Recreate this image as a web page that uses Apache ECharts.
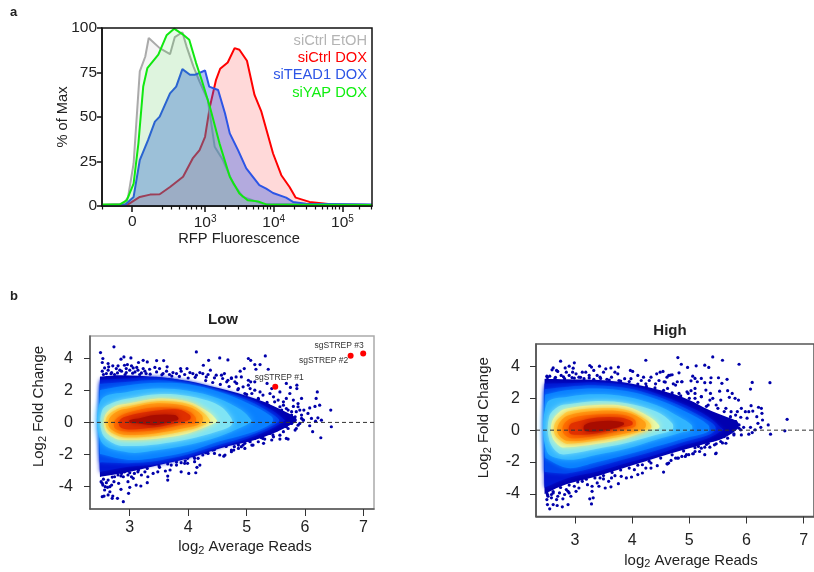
<!DOCTYPE html>
<html>
<head>
<meta charset="utf-8">
<style>html,body{margin:0;padding:0;background:#fff}#c{width:814px;height:572px}</style>
<script src="https://cdn.jsdelivr.net/npm/echarts@6/dist/echarts.min.js"></script>
</head>
<body>
<div id="c"></div>
<script>
// ---------- Panel a: histograms [display position (log10 units), % of max] ----------
const histGrey = [[1.5,.6],[1.81,.9],[1.88,5.1],[1.96,23.9],[2.05,75.6],[2.13,84],[2.18,94.4],[2.34,88.7],[2.49,85.3],[2.56,94.9],[2.67,97.6],[2.73,89.7],[2.83,78.4],[2.92,69.9],[3.04,59.6],[3.14,33.3],[3.26,25.8],[3.41,12.6],[3.55,5.1],[3.84,1.3],[5.43,.6]];
const histRed = [[1.5,.6],[1.88,.9],[2.05,5.1],[2.2,6.4],[2.34,6.6],[2.49,10.7],[2.68,16.4],[2.82,26.7],[2.92,31.4],[3,38.9],[3.07,55.8],[3.16,70.9],[3.22,77.1],[3.33,80.6],[3.43,88.7],[3.5,87.8],[3.61,81.6],[3.72,62.4],[3.82,53],[3.99,29.5],[4.11,17.3],[4.23,10.7],[4.32,4.7],[4.52,2.3],[4.86,.9],[5.43,.6]];
const histBlue = [[1.5,.6],[1.84,.9],[1.96,5.1],[2.05,25.8],[2.17,37],[2.27,47.4],[2.34,50.2],[2.49,63.3],[2.58,67.1],[2.67,76.9],[2.78,73.7],[2.85,73.7],[3,76.1],[3.06,67.1],[3.19,65.2],[3.29,52.1],[3.36,40.8],[3.48,31.4],[3.6,21.1],[3.79,11.7],[3.89,9.8],[3.99,7.3],[4.18,4.7],[4.28,2.3],[4.47,1.3],[5.43,.8]];
const histGreen = [[1.5,.9],[1.76,.9],[1.86,3.2],[1.96,12.6],[2.03,35.2],[2.1,67.1],[2.16,77.4],[2.32,85],[2.44,95.9],[2.55,99.6],[2.67,96.6],[2.77,93.4],[2.87,80.3],[2.95,70.9],[3.07,55.8],[3.21,35.2],[3.36,16.4],[3.5,7],[3.62,3.2],[3.77,2.6],[3.89,.9],[5.43,.6]];
const histNames = ['siCtrl EtOH','siCtrl DOX','siTEAD1 DOX','siYAP DOX'];
const histYTicks = [0,25,50,75,100];
const histXMajor = [1.94,3,4,5];
const histXLabels = ['0','10{s|3}','10{s|4}','10{s|5}'];
const histXMinor = [1.51,2.37,2.51,2.63,2.73,2.8,2.87,2.945,3.3,3.48,3.6,3.7,3.78,3.85,3.9,3.95,4.3,4.48,4.6,4.7,4.78,4.85,4.9,4.95,5.25,5.42];

// ---------- Panel b: shared ticks ----------
const maXTicks = [3,4,5,6,7];
const maYTicks = [-4,-2,0,2,4];

// ---------- Low: density contours [x, upper y, lower y], outermost first ----------
const lowBand0 = [[2.49,2.85,-3.4],[2.52,2.88,-3.38],[2.86,2.95,-3.2],[3.43,2.85,-2.73],[4,2.6,-2.25],[4.57,2.1,-1.6],[5.14,1.5,-1.1],[5.45,1.05,-.7],[5.7,.6,-.25],[5.85,.25,.05]];
const lowBand1 = [[2.49,2.65,-3.1],[2.52,2.67,-3.07],[2.98,2.75,-2.77],[3.49,2.85,-2.6],[4,2.55,-2.19],[4.52,2.05,-1.55],[5.03,1.5,-1],[5.43,.77,-.38],[5.65,.15,.1]];
const lowBand2 = [[2.49,2.4,-2.5],[2.52,2.42,-2.5],[2.98,2.55,-2.55],[3.49,2.65,-2.4],[4,2.4,-2],[4.52,1.95,-1.42],[5.03,1.35,-.85],[5.43,.55,-.22],[5.55,.2,.05]];
const lowBand3 = [[2.49,2,-1.94],[2.52,2.05,-2],[2.98,2.33,-2.35],[3.49,2.48,-2.19],[4,2.39,-1.83],[4.52,1.92,-1.2],[5.03,1.19,-.69],[5.43,.35,-.06]];
const lowBand4 = [[2.51,1.4,-1.2],[2.98,1.92,-1.88],[3.49,2.12,-1.73],[4,1.98,-1.42],[4.52,1.5,-.9],[4.91,.77,-.31],[5.08,.15,.04]];
const lowBand5 = [[2.53,.77,-.69],[2.75,1.29,-1.36],[2.98,1.5,-1.48],[3.49,1.77,-1.36],[4,1.65,-1.06],[4.52,1.08,-.54],[4.74,.25,-.17]];
const lowBand6 = [[2.58,.46,-.48],[2.75,1.02,-1],[2.98,1.19,-1.1],[3.49,1.5,-1],[4,1.29,-.69],[4.34,.67,-.23],[4.49,.15,.04]];
const lowBand7 = [[2.61,.35,-.38],[2.81,.87,-.85],[2.98,1.02,-.94],[3.49,1.33,-.83],[4,1.15,-.48],[4.26,.6,-.17],[4.37,.15,.04]];
const lowBand8 = [[2.65,.25,-.31],[2.81,.73,-.69],[2.98,.87,-.79],[3.43,1.19,-.69],[4,.98,-.31],[4.23,.46,-.02]];
const lowBand9 = [[2.75,.15,-.38],[2.98,.62,-.58],[3.43,.94,-.48],[3.95,.77,-.1],[4.12,.35,-.06]];
const lowBand10 = [[2.83,.15,-.27],[2.98,.42,-.44],[3.43,.73,-.31],[3.83,.81,-.02],[4.03,.46,.19]];
const lowBand11 = [[3,.15,-.02],[3.15,.25,-.06],[3.43,.46,-.17],[3.77,.46,.1],[3.83,.29,.19]];
// Low: individually visible points [x, y]
const lowDotsTop = [[2.5,4.37],[2.73,4.73],[2.54,4],[2.53,3.75],[2.63,3.69],[2.64,3.48],[2.85,3.96],[2.9,4.1],[3.02,4.04],[2.96,3.62],[3.15,3.75],[3.23,3.89],[3.3,3.79],[3.46,3.87],[3.58,3.87],[4.14,4.41],[4.35,3.89],[4.54,4.04],[4.68,3.91],[4.26,3.58],[3.64,3.48],[3.87,3.37],[3.98,3.37],[4.38,3.27],[4.62,3.06],[4.48,2.96],[4.25,3.06],[4.03,3.12],[3.8,3.06],[3.43,3.44],[3.34,3.33],[3.23,3.37],[3.12,3.44],[3.03,3.54],[2.91,3.58],[2.8,3.54],[2.71,3.54],[2.57,3.41],[2.53,3.21],[2.6,3.06],[2.69,3.12],[2.86,3.21],[3,3.27],[3.09,3.16],[3.17,3],[3.28,3.06],[3.46,3.16],[3.57,3.06],[3.68,3],[3.94,3],[4.14,2.96],[4.31,2.85],[4.45,2.79],[4.59,2.75],[4.74,2.79],[2.77,3.37],[2.83,3.27],[2.94,3.37],[3.06,3.41],[3.14,3.27],[2.94,3.12],[2.74,3],[2.63,3.27],[3.26,3.21],[3.51,3.37],[3.63,3.21],[3.74,3.12],[3.88,3.21],[4.08,3.06],[4.2,3.12],[4.34,3],[4.57,2.96],[4.68,2.64],[2.55,3],[2.68,3.05],[2.79,3.1],[2.92,3],[3.05,3.08],[3.2,3.1],[3.35,3.02],[3.55,2.98],[3.72,2.9],[3.85,2.88],[4,2.78],[4.12,2.82],[4.3,2.62],[4.42,2.5],[4.55,2.38],[4.7,2.25],[4.85,2.05],[5,1.75],[5.2,1.45],[5.35,1.25]];
const lowDotsRight = [[5.03,4],[5.07,3.89],[5.32,4.16],[5.14,3.62],[5.23,3.62],[5.16,3.33],[5.37,3.33],[4.96,3.37],[4.89,3.21],[4.91,2.85],[5.03,2.64],[5.07,2.54],[5.14,2.54],[5.35,2.44],[5.68,2.44],[5.86,2.33],[5.86,2.12],[5.75,2.19],[5.43,2.12],[5.57,1.91],[6.21,1.91],[6.19,1.5],[5.94,1.5],[5.74,1.81],[5.68,1.5],[5.54,1.4],[5.88,1.18],[6.08,.91],[6.25,1.08],[6.17,1],[6.44,.77],[5.98,.77],[5.8,1],[5.63,1.08],[5.71,.77],[6.05,.56],[5.94,.46],[5.85,.67],[5.77,.46],[6.22,.29],[6.28,.14],[6.11,.25],[6.18,.08],[6.08,-.21],[5.91,-.06],[5.97,.14],[5.77,-.06],[5.85,-.38],[5.68,-.27],[5.8,.14],[6.45,-.27],[6.27,-.96],[6.13,-.58],[5.71,-1.04],[5.57,-1.04],[5.29,-1.31],[5.46,-.9],[5.31,-1.04],[5.63,-.58],[5.06,-1.21],[4.94,-1.42],[4.86,-1.42],[4.78,-1.73],[5.14,-1],[5.51,.67],[5.6,.77],[5.68,.46],[5.66,.04],[5.57,.35],[5.46,1.6],[5.4,1.81],[5.23,1.91],[5.14,2.02],[5.06,2.12],[4.94,2.23],[4.83,2.44],[4.74,2.75],[4.82,2.85],[5.8,1.4],[5.63,1.29],[5.91,.77],[5.09,1.81],[5.2,1.5],[5.28,1.71],[5.37,1.08],[5.48,1.29],[5.57,.98],[5.68,.87],[5.77,.67],[5.88,.98],[5.83,.35],[5.94,.25],[5.74,.15],[5.63,.46],[5.51,.67],[5.4,.56],[5.26,.77],[5.14,1.08],[5.6,-.17],[5.71,-.38],[5.83,-.48],[5.51,-.48],[5.4,-.69],[5.28,-1],[5.2,-1.21],[5.09,-1.42],[4.97,-1.63],[4.86,-1.63],[4.74,-1.83],[4.63,-2.04],[5.43,-1.1],[5.57,-.8],[5.68,-1],[5.88,-.17],[5.97,.15],[4.97,1.81],[4.86,2.12],[5.03,2.33],[4.8,2.54],[4.66,2.54],[4.91,1.5]];
const lowDotsBottom = [[2.53,-4.65],[2.56,-4.61],[2.63,-4.54],[2.7,-4.75],[2.71,-4.61],[2.79,-4.75],[2.89,-4.96],[2.98,-4.44],[2.85,-4.19],[2.57,-4.23],[2.66,-4.34],[2.62,-4.06],[2.54,-3.92],[2.51,-3.71],[2.6,-3.77],[2.69,-3.92],[2.73,-3.71],[2.81,-3.81],[3,-4.06],[3.11,-3.92],[3.19,-3.98],[3.3,-3.77],[2.97,-3.71],[3.06,-3.5],[2.89,-3.4],[3.65,-3.61],[3.65,-3.36],[3.88,-3.09],[4.01,-3.19],[4.13,-3.15],[4.15,-2.81],[4.2,-2.67],[3.99,-2.56],[4.11,-2.46],[3.94,-2.56],[3.69,-2.98],[3.61,-3.04],[3.48,-3.09],[3.4,-3.19],[3.31,-3.4],[3.2,-3.29],[3.08,-3.19],[2.97,-3.29],[2.86,-3.19],[2.74,-3.4],[4.34,-1.73],[4.45,-1.94],[4.61,-2.11],[4.54,-2.04],[4.34,-1.94],[4.74,-1.73],[4.91,-1.52],[5.11,-1.42],[4.25,-2.04],[4.11,-2.25],[3.8,-2.67],[3.71,-2.67],[3.51,-2.81],[3.26,-3.09],[3.03,-3.4],[2.8,-3.29],[2.63,-3.61],[2.53,-3.81],[2.58,-4.02],[2.66,-4.02],[2.91,-3.09],[3.14,-3.09],[3.88,-2.52],[3.99,-2.25],[4.17,-2.25],[4.25,-1.84],[4.42,-1.73],[4.57,-1.42],[4.79,-1.52],[4.97,-1.31],[2.55,-3.55],[2.7,-3.42],[2.85,-3.35],[3,-3.15],[3.15,-2.98],[3.3,-2.88],[3.5,-2.72],[3.65,-2.6],[3.8,-2.48],[3.95,-2.4],[4.1,-2.15],[4.3,-1.9],[4.45,-1.7],[4.65,-1.5],[4.85,-1.3],[5.05,-1.15],[5.25,-.95],[5.45,-.78]];
const lowHitNames = ['sgSTREP #1','sgSTREP #2','sgSTREP #3'];
const lowHits = [[5.49,2.23],[6.78,4.18],[6.995,4.31]];

// ---------- High: density contours [x, upper y, lower y], outermost first ----------
const highBand0 = [[2.47,3.2,-4],[2.5,3.22,-3.95],[2.85,3.2,-3.4],[3.42,3.15,-2.86],[3.95,2.95,-2.27],[4.5,2.5,-1.65],[5,1.9,-1.13],[5.33,1.3,-.8],[5.6,.9,-.5],[5.85,.5,.1]];
const highBand1 = [[2.47,2.9,-3.6],[2.5,2.92,-3.55],[2.88,2.94,-3],[3.39,3,-2.6],[3.9,2.83,-2.06],[4.42,2.31,-1.54],[4.93,1.58,-.92],[5.33,.85,-.5],[5.6,.02,.02]];
const highBand2 = [[2.47,2.55,-2.6],[2.5,2.58,-2.62],[2.88,2.73,-2.7],[3.39,2.81,-2.3],[3.9,2.65,-1.8],[4.42,2.14,-1.28],[4.93,1.38,-.71],[5.33,.6,-.3],[5.45,.25,0]];
const highBand3 = [[2.48,2.2,-1.65],[2.51,2.25,-1.8],[2.88,2.52,-2.38],[3.39,2.62,-2],[3.9,2.46,-1.54],[4.42,1.96,-1.02],[4.93,1.17,-.5],[5.33,.33,-.09]];
const highBand4 = [[2.51,1.69,-1.34],[2.88,2.1,-1.86],[3.39,2.25,-1.54],[3.9,2.1,-1.17],[4.42,1.58,-.6],[4.82,.85,-.19],[5.04,.33,.02]];
const highBand5 = [[2.55,.85,-.6],[2.71,1.48,-1.44],[2.88,1.62,-1.5],[3.39,1.83,-1.17],[3.9,1.69,-.81],[4.42,1.17,-.29],[4.7,.44,.02]];
const highBand6 = [[2.6,.54,-.4],[2.74,1.17,-1.02],[2.88,1.37,-1.08],[3.39,1.58,-.86],[3.9,1.48,-.5],[4.3,.85,.02],[4.47,.33,.12]];
const highBand7 = [[2.65,.44,-.29],[2.8,.98,-.77],[2.88,1.17,-.86],[3.39,1.37,-.65],[3.9,1.27,-.33],[4.25,.64,.02],[4.33,.33,.12]];
const highBand8 = [[2.71,.33,-.25],[2.88,.92,-.67],[3.39,1.21,-.5],[3.9,1.12,-.19],[4.22,.54,.12]];
const highBand9 = [[2.8,.33,-.19],[2.94,.75,-.5],[3.39,.98,-.33],[3.85,.96,.02],[4.05,.64,.23]];
const highBand10 = [[2.91,.33,-.19],[3.05,.54,-.29],[3.39,.79,-.19],[3.79,.79,.17],[4,.54,.33]];
const highBand11 = [[3.17,.33,-.04],[3.39,.54,-.08],[3.68,.58,.12],[3.85,.48,.33]];
const highDotsTop = [[2.75,4.33],[4.24,4.39],[2.99,4.23],[2.62,3.91],[2.6,3.79],[2.83,3.91],[2.9,4.02],[2.97,3.89],[3.26,4.06],[3.29,3.96],[3.43,4.02],[3.54,3.85],[3.63,3.91],[3.76,3.96],[3.97,3.75],[4.01,3.69],[4.43,3.54],[4.49,3.64],[4.54,3.69],[4.64,3.44],[4.7,3.48],[4.61,3.33],[2.68,3.75],[2.7,3.69],[2.85,3.64],[2.96,3.64],[3.02,3.54],[3.13,3.64],[3.19,3.64],[3.33,3.75],[3.39,3.44],[3.5,3.64],[3.7,3.64],[3.75,3.54],[4.1,3.44],[4.2,3.33],[4.33,3.33],[2.51,3.39],[2.56,3.39],[2.76,3.44],[2.9,3.44],[3.07,3.33],[3.25,3.44],[3.44,3.33],[3.64,3.33],[3.87,3.23],[3.98,3.23],[4.16,3.12],[4.3,3.12],[4.47,3.12],[4.58,3.02],[4.72,2.91],[2.65,3.23],[2.82,3.23],[2.99,3.27],[3.16,3.23],[3.33,3.19],[3.56,3.19],[3.77,3.12],[4.24,2.91],[4.41,2.91],[2.52,3.3],[2.66,3.32],[2.8,3.35],[2.95,3.3],[3.1,3.32],[3.25,3.28],[3.45,3.25],[3.6,3.15],[3.8,3.08],[3.95,3.05],[4.1,2.9],[4.25,2.75],[4.4,2.65],[4.55,2.5],[4.7,2.35],[4.85,2.15],[5,2],[5.15,1.75],[5.3,1.5]];
const highDotsRight = [[4.8,4.56],[5.41,4.6],[5.58,4.39],[4.86,4.14],[4.97,3.94],[5.12,4.04],[5.27,4.08],[5.34,3.94],[5.87,4.14],[4.82,3.6],[4.67,3.46],[5.06,3.39],[5.1,3.25],[5.03,3.1],[5.21,3.25],[5.14,3.04],[5.27,2.98],[5.38,3.29],[5.37,2.99],[5.51,3.29],[5.57,2.94],[5.66,3.19],[6.1,3],[6.41,2.98],[6.07,2.58],[4.79,3.04],[4.87,3.04],[5.67,2.48],[5.75,2.31],[5.53,2.45],[5.29,2.52],[5.1,2.62],[5.03,2.48],[5.37,2.31],[4.96,2.41],[5.7,2.06],[5.8,2],[5.86,1.89],[5.55,1.89],[6.08,1.54],[6.21,1.44],[6.26,1.37],[5.91,1.37],[6.11,1.2],[6.27,1.06],[5.98,1.16],[6.04,1.16],[6.18,.85],[6.71,.68],[6.38,.33],[6.28,.64],[6.2,.43],[6.25,.18],[6.07,.18],[6.01,.75],[5.9,.81],[5.81,.95],[5.73,1.16],[5.64,1.37],[5.47,1.58],[5.36,1.89],[5.21,2.1],[5.1,2.31],[5.87,.33],[5.95,.18],[6.15,.02],[6.1,-.15],[6.67,-.04],[6.42,-.25],[5.91,-.3],[6.04,-.25],[5.78,-.23],[5.67,-.5],[5.55,-.71],[5.64,-.82],[5.47,-.86],[5.36,-1.07],[5.46,-1.48],[5.27,-1.07],[5.18,-1.34],[5.06,-1.48],[4.93,-1.65],[4.79,-1.75],[4.62,-2.11],[5.81,.54],[5.7,.33],[5.58,.64],[5.9,.02],[5.75,.12],[5.5,-.19],[5.41,-.61],[5.3,-.71],[5.16,-1.02],[4.98,2.31],[5.1,2],[5.21,2.1],[5.33,1.58],[5.41,2],[5.5,1.37],[5.61,1.17],[5.72,.85],[5.84,1.17],[5.81,.54],[5.67,.44],[5.55,.75],[5.44,.96],[5.33,.96],[5.18,1.37],[5.07,1.58],[5.87,.12],[5.72,-.1],[5.61,-.4],[5.5,-.19],[5.78,-.3],[5.58,-.8],[5.44,-.92],[5.33,-.82],[5.21,-1.13],[5.1,-1.34],[4.99,-1.54],[4.87,-1.65],[4.76,-1.75],[4.64,-2.06],[5.47,-1.44],[5.27,-1.54],[4.76,2.83],[4.87,3.04],[4.56,3.04],[4.62,2.62],[4.82,2.31]];
const highDotsBottom = [[2.56,-4.94],[2.52,-4.67],[2.62,-4.67],[2.69,-4.73],[2.78,-4.81],[2.88,-4.67],[3.29,-4.63],[3.26,-4.31],[3.32,-4.25],[4.55,-2.63],[2.51,-4.36],[2.59,-4.25],[2.68,-4.36],[2.79,-4.31],[2.93,-4.15],[3.02,-3.84],[2.88,-3.84],[2.73,-3.94],[2.62,-3.94],[2.51,-3.94],[3.3,-3.84],[3.42,-3.52],[3.53,-3.63],[3.63,-3.56],[3.76,-3.36],[3.9,-3],[3.99,-2.94],[4.1,-2.79],[4.18,-2.69],[3.59,-3.21],[3.5,-3.06],[3.39,-3.31],[3.22,-3.42],[3.13,-3.21],[2.99,-3.52],[2.85,-3.73],[3.64,-3],[3.81,-2.9],[4.04,-2.48],[4.24,-2.38],[4.33,-2.38],[4.61,-2.11],[4.68,-1.9],[4.81,-1.75],[4.95,-1.54],[5.07,-1.48],[4.44,-2.23],[4.18,-2.17],[4.33,-2.06],[2.59,-4.04],[2.7,-4.15],[2.53,-4.15],[2.82,-4.04],[2.9,-3.94],[3.07,-3.63],[3.3,-3.52],[3.7,-2.86],[3.44,-3],[2.52,-4.05],[2.62,-3.85],[2.75,-3.6],[2.9,-3.45],[3.05,-3.25],[3.2,-3.08],[3.35,-3],[3.5,-2.85],[3.65,-2.65],[3.8,-2.5],[3.95,-2.38],[4.1,-2.2],[4.3,-1.95],[4.5,-1.75],[4.7,-1.55],[4.9,-1.3],[5.1,-1.1],[5.3,-.9]];

// ---------- Styling and chart construction ----------
const FONT = '"Liberation Sans", Arial, sans-serif';
const INK = '#222';
const bandColors = ['#0000b0','#0018d4','#0048ee','#0a80ff','#30b4ff','#7fe4f4','#e4fbb0','#ffd54a','#ff9e14','#ff7000','#e03000','#a80c00'];
const lowBands = [lowBand0,lowBand1,lowBand2,lowBand3,lowBand4,lowBand5,lowBand6,lowBand7,lowBand8,lowBand9,lowBand10,lowBand11];
const highBands = [highBand0,highBand1,highBand2,highBand3,highBand4,highBand5,highBand6,highBand7,highBand8,highBand9,highBand10,highBand11];
const hitLabelOffsets = [[4,-9],[-27,5],[-24,-8]];

const subRich = {s:{fontSize:11,fontFamily:FONT,color:INK,padding:[7,0,0,0]}};
function histSeries(name,data,color,alpha,z){
  return {type:'line',name,data,xAxisIndex:0,yAxisIndex:0,symbol:'none',smooth:false,animation:false,z,
    lineStyle:{color,width:2},areaStyle:{color,opacity:alpha},silent:true};
}
function band(rows,color,ax,i){
  return {type:'custom',coordinateSystem:'cartesian2d',xAxisIndex:ax,yAxisIndex:ax,data:rows,encode:{x:0,y:1},animation:false,silent:true,z:2,
    renderItem(p,api){
      if(p.dataIndex!==0) return;
      const up=rows.map(r=>api.coord([r[0],r[1]]));
      const lo=rows.slice().reverse().map(r=>api.coord([r[0],r[2]]));
      const soft=i>0?{shadowBlur:i>3?6:4,shadowColor:color}:{};
      return {type:'polygon',shape:{points:up.concat(lo),smooth:0.35},style:Object.assign({fill:color},soft)};
    }};
}
function dots(data,ax){
  return {type:'scatter',data,xAxisIndex:ax,yAxisIndex:ax,symbolSize:3.2,animation:false,silent:true,z:1,
    itemStyle:{color:'#0000aa',opacity:1}};
}
function zeroLine(ax,xs){
  return {type:'line',data:[[xs[0],0],[xs[1],0]],xAxisIndex:ax,yAxisIndex:ax,symbol:'none',animation:false,silent:true,
    lineStyle:{color:'#333',width:1,type:[4,3]},z:5};
}
const lowXRange=[2.32,7.18], highXRange=[2.32,7.18], yRange=[-5.42,5.41];

function maX(gridIndex,range,lineColor,margin,gap,pad){
  return {type:'value',gridIndex,min:range[0],max:range[1],splitLine:{show:false},
    axisLine:{show:true,onZero:false,lineStyle:{color:lineColor,width:1.5}},
    axisTick:{show:true,length:7,customValues:maXTicks,lineStyle:{color:'#333',width:1}},
    axisLabel:{customValues:maXTicks,fontSize:16,fontFamily:FONT,color:INK,margin,showMinLabel:true,showMaxLabel:true},
    name:'log{s|2} Average Reads',nameLocation:'middle',nameGap:gap,
    nameTextStyle:{fontSize:15,fontFamily:FONT,color:INK,padding:[0,0,0,pad],rich:subRich}};
}
function maY(gridIndex,lineColor,margin,gap,pad){
  return {type:'value',gridIndex,min:yRange[0],max:yRange[1],splitLine:{show:false},
    axisLine:{show:true,onZero:false,lineStyle:{color:lineColor,width:1.5}},
    axisTick:{show:true,length:6,customValues:maYTicks,lineStyle:{color:'#333',width:1}},
    axisLabel:{customValues:maYTicks,fontSize:16,fontFamily:FONT,color:INK,margin},
    name:'Log{s|2} Fold Change',nameLocation:'middle',nameGap:gap,
    nameTextStyle:{fontSize:15,fontFamily:FONT,color:INK,padding:[0,0,0,pad],rich:subRich}};
}

const legendColors=['#b4b4b4','#ff0000','#2d55e6','#10ee10'];
const option={
  animation:false,
  backgroundColor:'#fff',
  title:[
    {text:'a',left:10,top:6,padding:0,textStyle:{fontSize:13,fontWeight:'bold',fontFamily:FONT,color:INK}},
    {text:'b',left:10,top:290,padding:0,textStyle:{fontSize:13,fontWeight:'bold',fontFamily:FONT,color:INK}},
    {text:'Low',left:223,top:312,padding:0,textAlign:'center',textStyle:{fontSize:15,fontWeight:'bold',fontFamily:FONT,color:INK}},
    {text:'High',left:670,top:323,padding:0,textAlign:'center',textStyle:{fontSize:15,fontWeight:'bold',fontFamily:FONT,color:INK}}
  ],
  grid:[
    {left:102,top:28,width:270,height:178,show:true,borderColor:'#111',borderWidth:1.5,backgroundColor:'transparent',z:10},
    {left:90,top:336,width:284,height:173,show:true,borderColor:'#aaa',borderWidth:1.5,backgroundColor:'transparent'},
    {left:536,top:344,width:284,height:172.5,show:true,borderColor:'#555',borderWidth:1.5,backgroundColor:'transparent'}
  ],
  xAxis:[
    {type:'value',gridIndex:0,min:1.5,max:5.43,splitLine:{show:false},
     axisLine:{show:true,onZero:false,lineStyle:{color:'#111',width:1.5}},
     axisTick:{show:true,length:6,customValues:histXMajor,lineStyle:{color:'#111',width:1.5}},
     axisLabel:{customValues:histXMajor,fontSize:15.5,fontFamily:FONT,color:INK,margin:8,
       formatter:v=>histXLabels[histXMajor.indexOf(v)],
       rich:{s:{fontSize:10,fontFamily:FONT,color:INK,padding:[0,0,7,0]}}},
     name:'RFP Fluorescence',nameLocation:'middle',nameGap:25,
     nameTextStyle:{fontSize:14.7,fontFamily:FONT,color:INK,padding:[0,0,0,4]}},
    maX(1,lowXRange,'#555',11,29,26),
    maX(2,highXRange,'#555',16,35,32),
    {type:'value',gridIndex:0,min:1.5,max:5.43,position:'bottom',splitLine:{show:false},
     axisLine:{show:false},axisLabel:{show:false},
     axisTick:{show:true,length:3.5,customValues:histXMinor,lineStyle:{color:'#111',width:1.2}}}
  ],
  yAxis:[
    {type:'value',gridIndex:0,min:0,max:100,splitLine:{show:false},
     axisLine:{show:true,lineStyle:{color:'#111',width:1.5}},
     axisTick:{show:true,length:5,customValues:histYTicks,lineStyle:{color:'#111',width:1.5}},
     axisLabel:{customValues:histYTicks,fontSize:15.5,fontFamily:FONT,color:INK,margin:5},
     name:'% of Max',nameLocation:'middle',nameGap:32,nameMoveOverlap:false,
     nameTextStyle:{fontSize:14.7,fontFamily:FONT,color:INK}},
    maY(1,'#555',17,42,32),
    maY(2,'#555',16,43,25)
  ],
  series:[
    histSeries(histNames[1],histRed,'#ff0000',0.15,2),
    histSeries(histNames[0],histGrey,'#aaaaaa',0.12,3),
    histSeries(histNames[2],histBlue,'#2d55e6',0.36,4),
    histSeries(histNames[3],histGreen,'#10e810',0.1,5),
    dots(lowDotsTop,1),dots(lowDotsRight,1),dots(lowDotsBottom,1),
    ...lowBands.map((b,i)=>band(b,bandColors[i],1,i)),
    zeroLine(1,lowXRange),
    {type:'scatter',xAxisIndex:1,yAxisIndex:1,symbolSize:6,animation:false,silent:true,z:6,
     data:lowHits.map((v,i)=>({value:v,label:{offset:hitLabelOffsets[i]}})),
     itemStyle:{color:'#ff0000',opacity:1},
     label:{show:true,position:'inside',fontSize:8.5,fontFamily:FONT,color:'#333',
       formatter:p=>lowHitNames[p.dataIndex]}},
    dots(highDotsTop,2),dots(highDotsRight,2),dots(highDotsBottom,2),
    ...highBands.map((b,i)=>band(b,bandColors[i],2,i)),
    zeroLine(2,highXRange)
  ],
  graphic:histNames.map((t,i)=>({type:'text',x:367,y:33+17.4*i,z:20,silent:true,
    style:{text:t,fill:legendColors[i],font:'14.7px '+FONT,textAlign:'right'}}))
};
const chart=echarts.init(document.getElementById('c'),null,{renderer:'canvas'});
chart.setOption(option);
</script>
</body>
</html>
